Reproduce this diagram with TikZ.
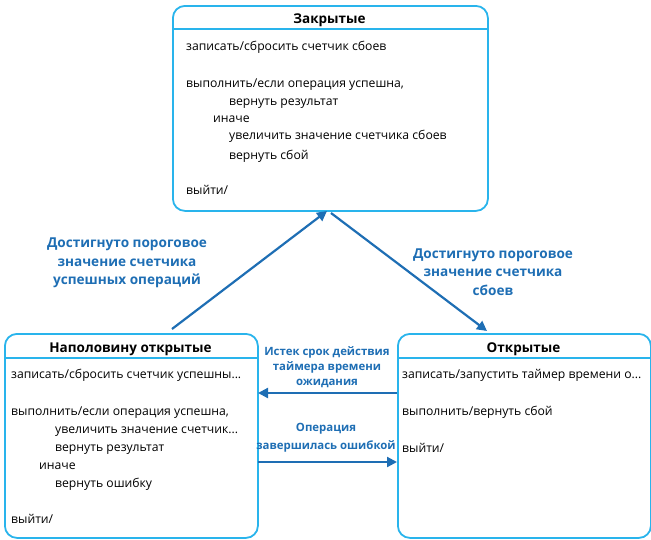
\documentclass[tikz,border=0pt]{standalone}
\usepackage{fontspec}
\setmainfont{Open Sans}
\usetikzlibrary{arrows.meta}
\definecolor{boxc}{RGB}{41,180,236}
\definecolor{arrc}{RGB}{30,110,180}
\tikzset{
  statebox/.style={draw=boxc, line width=1.8pt, rounded corners=12pt, fill=white, anchor=north west, inner sep=0pt},
  hdr/.style={font=\fontsize{13.5}{16}\selectfont\bfseries, anchor=base},
  txt/.style={font=\fontsize{12.2}{14}\selectfont, anchor=base west, inner sep=0pt},
  lbl/.style={font=\fontsize{13.6}{18.5}\selectfont\bfseries, text=arrc, align=center, inner sep=0pt},
  conn/.style={draw=arrc, line width=2.2pt, -{Triangle[length=10pt,width=10pt]}},
  divider/.style={draw=boxc, line width=1.8pt}
}
\begin{document}
\begin{tikzpicture}[x=1pt,y=-1pt]
\useasboundingbox (0,0) rectangle (651,539);
% boxes
\node[statebox, minimum width=315pt, minimum height=205pt] (closed) at (172,5) {};
\node[statebox, minimum width=253pt, minimum height=204pt] (half) at (4,333) {};
\node[statebox, minimum width=253pt, minimum height=204pt] (open) at (397,333) {};
% dividers
\coordinate (cdl) at (172,29); \coordinate (cdr) at (487,29);
\draw[divider] (cdl) -- (cdr);
\coordinate (hdl) at (4,358); \coordinate (hdr2) at (257,358);
\draw[divider] (hdl) -- (hdr2);
\coordinate (odl) at (397,358); \coordinate (odr) at (650,358);
\draw[divider] (odl) -- (odr);
% headers
\node[hdr] (ctitle) at (329.5,23) {Закрытые};
\node[hdr] (htitle) at (130.5,352) {Наполовину открытые};
\node[hdr] (otitle) at (523.5,352) {Открытые};
% closed text
\node[txt] (c1) at (186,50) {записать/сбросить счетчик сбоев};
\node[txt] (c2) at (186,87) {выполнить/если операция успешна,};
\node[txt] (c3) at (229,105) {вернуть результат};
\node[txt] (c4) at (213,122) {иначе};
\node[txt] (c5) at (229,139) {увеличить значение счетчика сбоев};
\node[txt] (c6) at (229,159) {вернуть сбой};
\node[txt] (c7) at (186,194) {выйти/};
% half-open text
\node[txt] (h1) at (11,378) {записать/сбросить счетчик успешны...};
\node[txt] (h2) at (11,415) {выполнить/если операция успешна,};
\node[txt] (h3) at (55,433) {увеличить значение счетчик...};
\node[txt] (h4) at (55,451) {вернуть результат};
\node[txt] (h5) at (39,469) {иначе};
\node[txt] (h6) at (55,487) {вернуть ошибку};
\node[txt] (h7) at (11,523) {выйти/};
% open text
\node[txt] (o1) at (402,378) {записать/запустить таймер времени о...};
\node[txt] (o2) at (402,415) {выполнить/вернуть сбой};
\node[txt] (o3) at (402,452) {выйти/};
% connectors
\coordinate (a1s) at (172,329); \coordinate (a1e) at (327,211);
\draw[conn] (a1s) -- (a1e);
\coordinate (a2s) at (331,213); \coordinate (a2e) at (487,331);
\draw[conn] (a2s) -- (a2e);
\coordinate (a3s) at (397,393); \coordinate (a3e) at (258,393);
\draw[conn] (a3s) -- (a3e);
\coordinate (a4s) at (258,462); \coordinate (a4e) at (397,462);
\draw[conn] (a4s) -- (a4e);
% labels
\node[lbl] (l1) at (127,263) {Достигнуто пороговое\\значение счетчика\\успешных операций};
\node[lbl] (l2) at (493,272) {Достигнуто пороговое\\значение счетчика\\сбоев};
\node[lbl, font=\fontsize{11.4}{15}\selectfont\bfseries] (l3) at (327,367) {Истек срок действия\\таймера времени\\ожидания};
\node[lbl, font=\fontsize{11.4}{18}\selectfont\bfseries] (l4) at (326,438) {Операция\\завершилась ошибкой};
\end{tikzpicture}
\end{document}
